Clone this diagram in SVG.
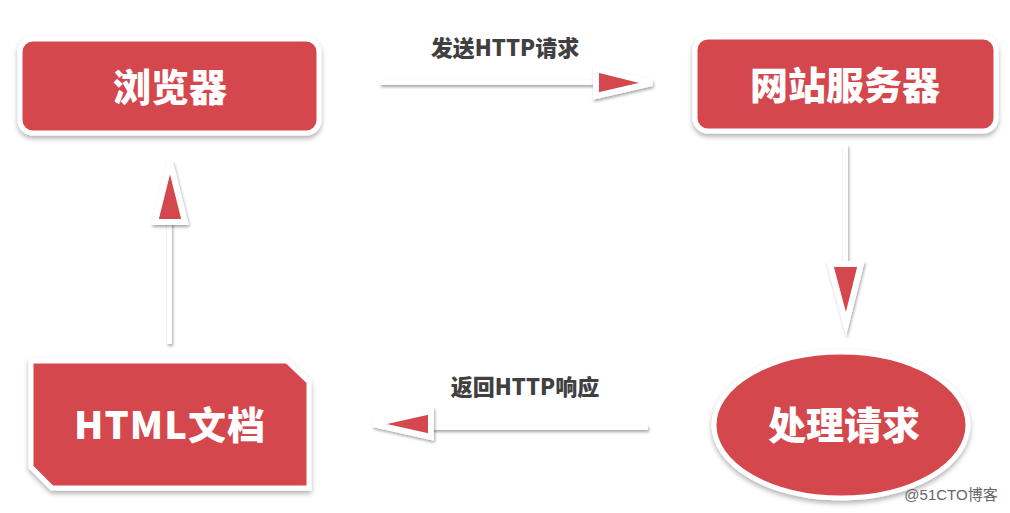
<svg xmlns="http://www.w3.org/2000/svg" width="1010" height="513" viewBox="0 0 1010 513">
<defs>
<filter id="sh" x="-20%" y="-20%" width="140%" height="150%">
<feDropShadow dx="0" dy="3" stdDeviation="2.5" flood-color="#000" flood-opacity="0.3"/>
</filter>
<filter id="lsh" filterUnits="userSpaceOnUse" x="0" y="0" width="1010" height="513">
<feDropShadow dx="1" dy="2" stdDeviation="1.5" flood-color="#000" flood-opacity="0.35"/>
</filter>
<style>
.node{fill:#D4474E;stroke:#fff;stroke-width:5;filter:url(#sh)}
.lbl{font-family:"Noto Sans CJK SC","Liberation Sans",sans-serif;font-weight:900;font-size:38px;fill:#fff;text-anchor:middle}
.elbl{font-family:"Noto Sans CJK SC","Liberation Sans",sans-serif;font-weight:900;font-size:22px;fill:#404040;text-anchor:middle}
.line{fill:#fff;filter:url(#lsh)}
.head{fill:#D4474E;stroke:#fff;stroke-width:6;stroke-linejoin:miter;filter:url(#lsh)}
</style>
</defs>
<rect width="1010" height="513" fill="#fff"/>
<g id="connectors">
<g id="c1">
<rect class="line" x="380" y="80" width="222" height="5"/>
<polygon class="head" points="596,69 652,83 596,96"/>
<text class="elbl" x="505" y="56">发送HTTP请求</text>
</g>
<g id="c2">
<rect class="line" x="843" y="145" width="5" height="120"/>
<polygon class="head" points="830,264 861,264 846,324"/>
</g>
<g id="c3">
<rect class="line" x="426" y="425" width="222" height="5"/>
<polygon class="head" points="431,411 431,437 373,424"/>
<text class="elbl" x="525" y="395">返回HTTP响应</text>
</g>
<g id="c4">
<rect class="line" x="167" y="220" width="5" height="124"/>
<polygon class="head" points="155,222 185,222 170,162"/>
</g>
</g>
<g id="browser">
<rect class="node" x="20" y="39" width="299" height="94" rx="13"/>
<text class="lbl" x="170" y="101">浏览器</text>
</g>
<g id="server">
<rect class="node" x="695" y="37" width="301" height="94" rx="13"/>
<text class="lbl" x="845" y="99">网站服务器</text>
</g>
<g id="process">
<ellipse class="node" cx="841" cy="425" rx="127" ry="73"/>
<text class="lbl" x="844" y="439">处理请求</text>
</g>
<g id="html">
<polygon class="node" points="31,361 287,361 309,382 309,488 52,488 31,467"/>
<text class="lbl" x="170" y="439" letter-spacing="1">HTML文档</text>
</g>
<text x="951" y="500" font-family="'Liberation Sans','Noto Sans CJK SC',sans-serif" font-size="15" fill="#666" text-anchor="middle">@51CTO博客</text>
</svg>
